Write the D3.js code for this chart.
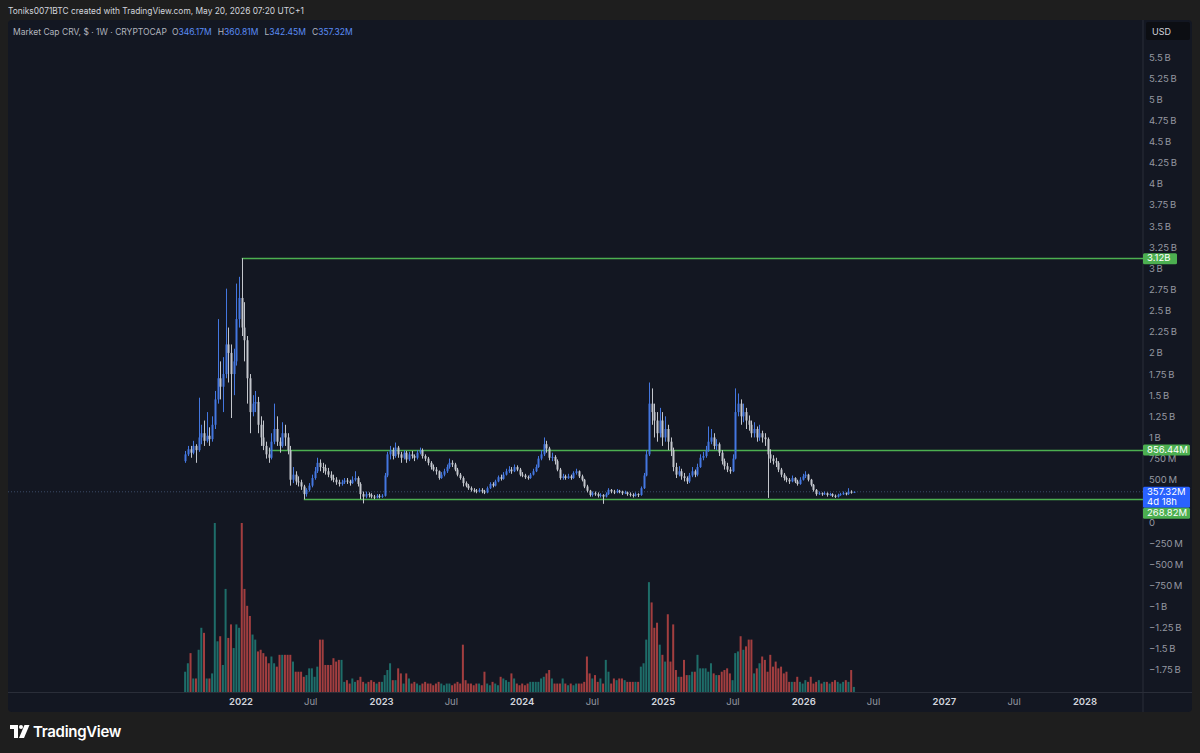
<!DOCTYPE html>
<html><head><meta charset="utf-8">
<script src="https://cdn.jsdelivr.net/npm/d3@7/dist/d3.min.js"></script>
<style>
html,body{margin:0;padding:0;background:#1e1e1e;}
svg{display:block;font-family:Inter,"Noto Sans",Roboto,sans-serif;}
</style></head><body>
<svg id="c" width="1200" height="753"></svg>
<script>
// ---- DATA (weekly, Market Cap CRV, values in millions USD) ----
const firstWeek = "2021-08-09";
const open = [720,800,860,820,900,850,1000,1050,960,1020,980,1150,1450,1700,1600,1750,2100,2000,1750,1900,2400,2650,2300,2150,1700,1300,1400,1420,1150,1000,900,800,760,950,1100,950,900,1050,1000,850,500,560,480,470,420,330,380,430,520,600,700,650,640,600,560,520,500,470,450,470,490,480,460,500,520,450,330,300,330,320,300,290,310,300,310,550,800,850,780,880,800,760,820,740,800,780,760,820,850,780,750,700,650,620,600,520,560,600,650,700,680,620,560,520,460,430,400,380,370,360,380,360,350,400,450,430,480,530,510,560,600,620,600,650,620,560,550,530,520,560,600,650,750,800,920,870,760,770,720,620,520,540,520,540,520,580,600,540,500,420,370,320,340,330,310,320,300,330,380,360,350,370,360,340,350,330,320,310,330,320,400,550,800,1400,1300,1200,1050,1200,1000,1100,950,850,650,560,600,540,520,480,550,600,560,650,760,780,850,950,1000,900,920,820,720,660,620,600,750,1300,1400,1250,1300,1200,1150,1050,1100,1000,1050,1000,980,800,750,720,700,620,560,520,500,480,520,480,450,500,540,560,500,440,380,330,340,330,340,320,330,310,300,320,330,340,330,360,346.17];
const high = [840,900,900,960,920,1470,1150,1200,1300,1120,1250,1550,2400,1900,1950,2760,2300,2100,2050,2820,2900,3120,2600,2200,1750,1500,1550,1480,1250,1200,950,880,1050,1400,1250,1000,1180,1150,1050,900,650,600,540,500,440,400,460,560,650,760,740,700,680,640,600,560,530,500,500,520,520,500,540,600,540,470,360,360,350,340,320,330,330,330,580,830,900,880,940,900,830,850,840,830,840,800,850,880,870,800,770,720,680,650,610,590,630,680,750,730,700,640,580,540,480,450,420,400,390,400,400,380,420,470,470,500,550,560,590,630,660,650,680,670,640,590,570,550,580,630,680,780,850,1000,960,890,820,790,740,640,570,560,570,560,600,630,610,560,510,440,380,360,360,350,340,330,350,400,390,380,390,380,370,370,360,350,340,350,340,420,580,850,1650,1580,1400,1300,1350,1300,1250,1150,1000,880,700,660,630,580,540,580,650,620,690,800,830,900,1130,1100,1050,980,940,850,750,700,650,800,1580,1520,1450,1400,1350,1260,1200,1180,1130,1150,1080,1050,1000,860,790,760,720,640,580,540,520,550,530,500,530,570,600,570,510,450,390,360,350,360,350,345,340,325,335,345,360,350,400,375,360.81];
const low = [700,780,760,800,700,830,920,900,940,900,950,1100,1400,1450,1300,1700,1650,1230,1500,1850,2300,2200,1900,1400,1050,1250,1300,1050,900,850,750,700,740,920,900,820,880,900,800,430,460,440,420,380,269,300,360,410,500,580,600,580,560,530,490,470,440,420,430,450,450,430,450,480,420,270,220,280,290,280,270,280,280,285,300,530,740,740,760,760,700,740,700,720,750,720,740,800,750,720,670,620,600,560,500,510,540,580,630,650,600,540,500,420,410,380,360,350,340,350,340,330,340,390,410,420,470,490,500,550,580,570,590,600,540,530,510,500,510,550,590,640,730,780,820,730,720,680,600,500,500,500,510,500,510,560,520,480,400,350,300,300,310,290,290,215,290,320,340,330,340,340,320,330,310,300,290,300,295,310,390,540,780,1150,1000,950,1000,900,950,850,780,600,520,540,500,480,450,460,530,530,540,640,730,760,830,920,860,850,780,680,620,590,570,590,740,1250,1150,1180,1100,1080,1000,1000,950,960,940,900,285,700,680,650,590,530,490,470,450,470,460,430,440,490,520,480,420,360,310,320,310,320,300,310,295,285,290,310,320,315,320,335,342.45];
const close = [800,860,820,900,850,1000,1050,960,1020,980,1150,1450,1700,1600,1750,2100,2000,1750,1900,2400,2650,2300,2150,1700,1300,1400,1420,1150,1000,900,800,760,950,1100,950,900,1050,1000,850,500,560,480,470,420,330,380,430,520,600,700,650,640,600,560,520,500,470,450,470,490,480,460,500,520,450,330,300,330,320,300,290,310,300,310,550,800,850,780,880,800,760,820,740,800,780,760,820,850,780,750,700,650,620,600,520,560,600,650,700,680,620,560,520,460,430,400,380,370,360,380,360,350,400,450,430,480,530,510,560,600,620,600,650,620,560,550,530,520,560,600,650,750,800,920,870,760,770,720,620,520,540,520,540,520,580,600,540,500,420,370,320,340,330,310,320,300,330,380,360,350,370,360,340,350,330,320,310,330,320,400,550,800,1400,1300,1200,1050,1200,1000,1100,950,850,650,560,600,540,520,480,550,600,560,650,760,780,850,950,1000,900,920,820,720,660,620,600,750,1300,1400,1250,1300,1200,1150,1050,1100,1000,1050,1000,980,800,750,720,700,620,560,520,500,480,520,480,450,500,540,560,500,440,380,330,340,330,340,320,330,310,300,320,330,340,330,360,346.17,357.32];
const volume = [12,17,23,8,8,25,38,35,8,8,11,100,30,33,16,61,32,40,26,40,38,100,61,51,45,34,31,24,25,23,21,17,21,17,15,22,22,22,22,22,18,12,12,12,9,10,14,14,9,15,31,31,16,16,16,20,18,19,19,6,7,5,8,6,7,9,6,5,6,7,6,5,6,6,10,13,17,7,7,14,11,5,11,8,5,6,5,4,5,6,5,5,4,5,6,5,4,5,5,4,5,6,5,28,7,5,5,4,5,5,4,12,5,4,6,5,4,9,8,7,6,11,8,5,4,5,4,5,6,6,6,6,8,9,11,13,8,5,5,5,8,5,4,5,4,5,5,5,6,21,11,8,10,6,8,5,19,12,5,8,7,8,8,7,6,6,6,6,6,15,17,31,65,53,38,41,28,22,18,46,18,40,13,9,9,19,10,10,12,12,22,14,14,14,12,17,11,10,10,12,13,14,11,7,23,24,33,25,27,31,31,11,14,17,21,19,12,22,15,18,14,15,11,12,6,6,6,9,6,5,7,6,9,5,6,7,5,6,6,5,6,7,6,5,6,7,6,13,3];
const priceTicks = [-1750,-1500,-1250,-1000,-750,-500,-250,0,500,750,1000,1250,1500,1750,2000,2250,2500,2750,3000,3250,3500,3750,4000,4250,4500,4750,5000,5250,5500];
const timeTicks = ["2022-01-01","2022-07-01","2023-01-01","2023-07-01","2024-01-01","2024-07-01","2025-01-01","2025-07-01","2026-01-01","2026-07-01","2027-01-01","2027-07-01","2028-01-01"];
const levelValues = [3120, 856.44, 268.82];
const levelLabels = ["3.12B", "856.44M", "268.82M"];
const levelStart = ["2022-01-03", "2022-03-14", "2022-06-13"];
const lastPrice = 357.32;
const legendOHLC = [["O","346.17M"],["H","360.81M"],["L","342.45M"],["C","357.32M"]];

// ---- LAYOUT ----
const pane = {x0: 8, y0: 20, x1: 1192, y1: 712};
const axisX = 1143;
const svg = d3.select("#c");

const x = d3.scaleUtc().domain([new Date("2022-01-01"), new Date("2028-01-01")]).range([241, 1085]);
const y = d3.scaleLinear().domain([0, 5500]).range([522, 57]);
const yv = d3.scaleLinear().domain([0, 100]).range([692, 523]);

const start = new Date(firstWeek + "T00:00:00Z");
const data = close.map((c, i) => ({
  d: d3.utcDay.offset(start, 7 * i), o: open[i], h: high[i], l: low[i], c: c, v: volume[i]
}));

// background pane
svg.append("rect").attr("x", pane.x0).attr("y", pane.y0).attr("width", pane.x1 - pane.x0)
  .attr("height", pane.y1 - pane.y0).attr("rx", 4).attr("fill", "#131722");

// header
svg.append("text").attr("x", 8).attr("y", 13.5).attr("fill", "#d1d4dc").attr("font-size", 8.4)
  .text("Toniks0071BTC created with TradingView.com, May 20, 2026 07:20 UTC+1");

const leg = svg.append("text").attr("x", 13).attr("y", 34.5).attr("font-size", 8.5).attr("fill", "#b2b5be");
leg.append("tspan").text("Market Cap CRV, $ · 1W · CRYPTOCAP");
legendOHLC.forEach(([k, v], i) => {
  leg.append("tspan").attr("fill", "#b2b5be").attr("dx", i === 0 ? 5 : 6).text(k);
  leg.append("tspan").attr("fill", "#5a8cf5").text(v);
});

// separators
svg.append("line").attr("x1", axisX).attr("x2", axisX).attr("y1", pane.y0).attr("y2", pane.y1)
  .attr("stroke", "#2a2e39").attr("stroke-width", 1);
svg.append("line").attr("x1", pane.x0).attr("x2", pane.x1).attr("y1", 692.5).attr("y2", 692.5)
  .attr("stroke", "#2a2e39").attr("stroke-width", 1);

// USD box
svg.append("rect").attr("x", 1146).attr("y", 22).attr("width", 44).attr("height", 18).attr("rx", 2).attr("fill", "#0c0e13");
svg.append("text").attr("x", 1152).attr("y", 34.5).attr("font-size", 9).attr("fill", "#d1d4dc").text("USD");

// price axis labels
const fmt = v => v === 0 ? "0" : (v < 0 ? "\u2212" : "") +
  (Math.abs(v) >= 1000 ? (Math.abs(v) / 1000) + "\u202FB" : Math.abs(v) + "\u202FM");
svg.append("g").selectAll("text").data(priceTicks).join("text")
  .attr("x", 1149).attr("y", d => y(d) + 3.5).attr("font-size", 9.5).attr("fill", "#9598a1").text(fmt);

// time axis labels
svg.append("g").selectAll("text").data(timeTicks).join("text")
  .attr("x", d => x(new Date(d))).attr("y", 705).attr("text-anchor", "middle")
  .attr("font-size", 9.5)
  .attr("font-weight", d => d.endsWith("01-01") ? 600 : 400)
  .attr("fill", d => d.endsWith("01-01") ? "#d1d4dc" : "#9598a1")
  .text(d => d.endsWith("01-01") ? d.slice(0, 4) : "Jul");

// clip for chart area
svg.append("clipPath").attr("id", "plot").append("rect").attr("x", pane.x0).attr("y", pane.y0)
  .attr("width", axisX - pane.x0).attr("height", 692 - pane.y0);
const plot = svg.append("g").attr("clip-path", "url(#plot)");

// volume bars
plot.append("g").selectAll("rect").data(data).join("rect")
  .attr("x", d => x(d.d) - 1).attr("width", 2)
  .attr("y", d => yv(d.v)).attr("height", d => yv(0) - yv(d.v))
  .attr("fill", d => d.c >= d.o ? "rgba(38,166,154,0.6)" : "rgba(239,83,80,0.65)");

// current price line
plot.append("line").attr("x1", pane.x0).attr("x2", axisX).attr("y1", y(lastPrice)).attr("y2", y(lastPrice))
  .attr("stroke", "#3b4a66").attr("stroke-width", 1).attr("stroke-dasharray", "1,2");

// level lines
levelValues.forEach((v, i) => {
  plot.append("line").attr("x1", x(new Date(levelStart[i]))).attr("x2", axisX)
    .attr("y1", Math.round(y(v)) + 0.5).attr("y2", Math.round(y(v)) + 0.5)
    .attr("stroke", "#4caf50").attr("stroke-width", 1.3);
});

// candles
const cg = plot.append("g");
const upC = "#4477e0", dnC = "#c3c6cc";
cg.selectAll("line").data(data).join("line")
  .attr("x1", d => Math.round(x(d.d)) + 0.5).attr("x2", d => Math.round(x(d.d)) + 0.5)
  .attr("y1", d => y(d.h)).attr("y2", d => y(d.l))
  .attr("stroke", d => d.c >= d.o ? upC : dnC).attr("stroke-width", 1);
cg.selectAll("rect").data(data).join("rect")
  .attr("x", d => Math.round(x(d.d)) - 0.5).attr("width", 2)
  .attr("y", d => y(Math.max(d.o, d.c)))
  .attr("height", d => Math.max(1, Math.abs(y(d.o) - y(d.c))))
  .attr("fill", d => d.c >= d.o ? upC : dnC);

// right-axis labels for levels and last price
const labelBox = (yc, w, h, fill, lines) => {
  svg.append("rect").attr("x", axisX).attr("y", yc).attr("width", w).attr("height", h).attr("rx", 1.5).attr("fill", fill);
  lines.forEach((t, k) => svg.append("text").attr("x", axisX + 4).attr("y", yc + 8 + k * 10)
    .attr("font-size", 9.5).attr("fill", "#ffffff").text(t));
};
labelBox(y(levelValues[0]) - 5, 34, 11, "#4caf50", [levelLabels[0]]);
labelBox(y(levelValues[1]) - 5, 47, 11, "#4caf50", [levelLabels[1]]);
labelBox(y(lastPrice) - 5, 47, 21, "#2962ff", ["357.32M", "4d 18h"]);
labelBox(y(lastPrice) + 16, 47, 11, "#4caf50", [levelLabels[2]]);

// TradingView logo
const logo = svg.append("g").attr("transform", "translate(10,725)");
logo.append("path").attr("d", "M0 0 H8 V13 H4 V4 H0 Z").attr("fill", "#ffffff");
logo.append("circle").attr("cx", 11).attr("cy", 2).attr("r", 2).attr("fill", "#ffffff");
logo.append("path").attr("d", "M14.5 0 H19.5 L14 13 H9 Z").attr("fill", "#ffffff");
svg.append("text").attr("x", 33).attr("y", 737).attr("font-size", 15).attr("font-weight", 600)
  .attr("fill", "#ffffff").attr("letter-spacing", -0.3).text("TradingView");
</script>
</body></html>
